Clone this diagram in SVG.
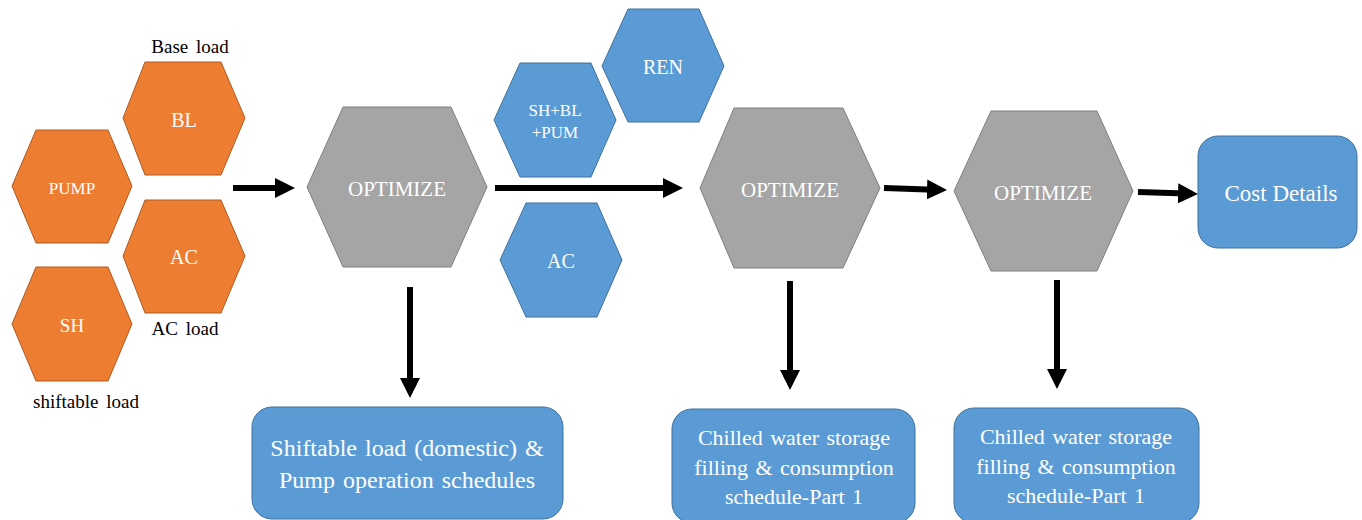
<svg xmlns="http://www.w3.org/2000/svg" width="1362" height="520" viewBox="0 0 1362 520" font-family="Liberation Serif, Times New Roman, serif">
<style>
.or{fill:#ED7D31;stroke:#AE5A21;stroke-width:1}
.bl{fill:#5B9BD5;stroke:#41719C;stroke-width:1}
.gr{fill:#A5A5A5;stroke:#7F7F7F;stroke-width:1}
text{font-family:'Liberation Serif','Times New Roman',serif;text-anchor:middle}
.w{fill:#FFFFFF}
.k{fill:#000000;font-size:19px;word-spacing:3px}
.conn{stroke:#000;stroke-width:6;fill:none}
</style>
<defs>
<marker id="ah" markerUnits="userSpaceOnUse" markerWidth="20" markerHeight="20" refX="0" refY="10" orient="auto" viewBox="0 0 20 20">
<path d="M0,0 L20,10 L0,20 Z" fill="#000"/>
</marker>
</defs>
<g id="labels">
<text class="k" x="190" y="53">Base load</text>
<text class="k" x="185" y="335">AC load</text>
<text class="k" x="86" y="408">shiftable load</text>
</g>
<g id="bl">
<polygon class="or" points="123,118 145,62 221,62 245,118 221,175 145,175"/>
<text class="w" x="184" y="127" font-size="20">BL</text>
</g>
<g id="pump">
<polygon class="or" points="12,186 36,130 108,130 132,186 108,243 36,243"/>
<text class="w" x="72" y="194" font-size="17">PUMP</text>
</g>
<g id="ac">
<polygon class="or" points="123,256 145,200 221,200 245,256 221,313 145,313"/>
<text class="w" x="184" y="264" font-size="20">AC</text>
</g>
<g id="sh">
<polygon class="or" points="12,324 36,267 108,267 132,324 108,381 36,381"/>
<text class="w" x="72" y="332" font-size="19">SH</text>
</g>
<g id="opt1">
<polygon class="gr" points="307,187 343,107 451,107 487,187 451,267 343,267"/>
<text class="w" x="397" y="196" font-size="21">OPTIMIZE</text>
</g>
<g id="shblpum">
<polygon class="bl" points="494,120 520,63 591,63 616,120 591,177 520,177"/>
<text class="w" x="555" y="116" font-size="17">SH+BL</text>
<text class="w" x="555" y="138" font-size="17">+PUM</text>
</g>
<g id="ren">
<polygon class="bl" points="602,66 628,9 699,9 724,66 699,122 628,122"/>
<text class="w" x="663" y="74" font-size="20">REN</text>
</g>
<g id="ac2">
<polygon class="bl" points="500,260 526,203 597,203 622,260 597,317 526,317"/>
<text class="w" x="561" y="268" font-size="20">AC</text>
</g>
<g id="opt2">
<polygon class="gr" points="700,188 734,108 843,108 880,188 843,268 734,268"/>
<text class="w" x="790" y="197" font-size="21">OPTIMIZE</text>
</g>
<g id="opt3">
<polygon class="gr" points="954,191 991,111 1097,111 1133,191 1097,271 991,271"/>
<text class="w" x="1043" y="200" font-size="21">OPTIMIZE</text>
</g>
<g id="cost">
<rect class="bl" x="1198" y="136" width="159" height="112" rx="20"/>
<text class="w" x="1281" y="201" font-size="23">Cost Details</text>
</g>
<g id="out1">
<rect class="bl" x="252" y="407" width="311" height="112" rx="20"/>
<text class="w" x="407" y="456" font-size="24" word-spacing="2">Shiftable load (domestic) &amp;</text>
<text class="w" x="407" y="488" font-size="24" word-spacing="2">Pump operation schedules</text>
</g>
<g id="out2">
<rect class="bl" x="672" y="409" width="243" height="114" rx="20"/>
<text class="w" x="794" y="445" font-size="22" word-spacing="2">Chilled water storage</text>
<text class="w" x="794" y="475" font-size="22" word-spacing="2">filling &amp; consumption</text>
<text class="w" x="794" y="504" font-size="22" word-spacing="2">schedule-Part 1</text>
</g>
<g id="out3">
<rect class="bl" x="954" y="408" width="245" height="115" rx="20"/>
<text class="w" x="1076" y="444" font-size="22" word-spacing="2">Chilled water storage</text>
<text class="w" x="1076" y="474" font-size="22" word-spacing="2">filling &amp; consumption</text>
<text class="w" x="1076" y="503" font-size="22" word-spacing="2">schedule-Part 1</text>
</g>
<g id="connectors">
<line class="conn" x1="233" y1="188" x2="275" y2="188" marker-end="url(#ah)"/>
<line class="conn" x1="495" y1="188" x2="663" y2="188" marker-end="url(#ah)"/>
<line class="conn" x1="884" y1="188" x2="927" y2="189.4" marker-end="url(#ah)"/>
<line class="conn" x1="1138" y1="192" x2="1178" y2="193.3" marker-end="url(#ah)"/>
<line class="conn" x1="410" y1="287" x2="410" y2="378" marker-end="url(#ah)"/>
<line class="conn" x1="790" y1="281" x2="790" y2="370" marker-end="url(#ah)"/>
<line class="conn" x1="1057" y1="280" x2="1057" y2="369" marker-end="url(#ah)"/>
</g>
</svg>
